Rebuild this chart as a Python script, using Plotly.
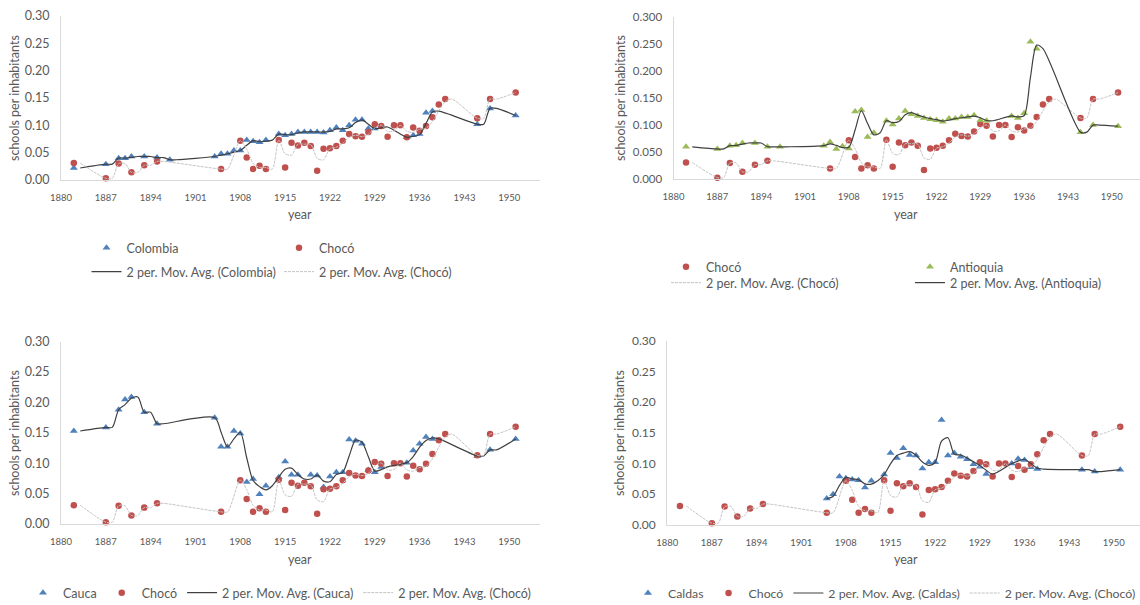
import pandas as pd
import plotly.graph_objects as go

# ---------------- data: schools per inhabitants ----------------
choco_years = [1882, 1887, 1889, 1891, 1893, 1895, 1905, 1908, 1909, 1910, 1911, 1912,
               1914, 1915, 1916, 1917, 1918, 1919, 1920, 1921, 1922, 1923, 1924, 1925,
               1926, 1927, 1928, 1929, 1930, 1931, 1932, 1933, 1934, 1935, 1936, 1937,
               1938, 1939, 1940, 1945, 1947, 1951]
choco_vals = [0.031, 0.003, 0.030, 0.014, 0.027, 0.034, 0.020, 0.072, 0.041, 0.020, 0.026, 0.020,
              0.073, 0.023, 0.068, 0.063, 0.068, 0.062, 0.017, 0.057, 0.058, 0.062, 0.072, 0.084,
              0.080, 0.079, 0.088, 0.102, 0.099, 0.079, 0.100, 0.100, 0.078, 0.096, 0.090, 0.099,
              0.115, 0.138, 0.148, 0.113, 0.148, 0.160]

colombia_years = [1882, 1887, 1889, 1890, 1891, 1893, 1895, 1897, 1904, 1905, 1906, 1907,
                  1908, 1909, 1910, 1911, 1912, 1914, 1915, 1916, 1917, 1918, 1919, 1920,
                  1921, 1922, 1923, 1924, 1925, 1926, 1927, 1928, 1929, 1930, 1934, 1935,
                  1936, 1937, 1938, 1945, 1947, 1951]
colombia_vals = [0.022, 0.029, 0.040, 0.040, 0.043, 0.043, 0.041, 0.037, 0.043, 0.048, 0.048, 0.054,
                 0.054, 0.073, 0.071, 0.069, 0.073, 0.084, 0.082, 0.084, 0.088, 0.088, 0.088, 0.088,
                 0.087, 0.091, 0.096, 0.091, 0.100, 0.110, 0.110, 0.094, 0.094, 0.097, 0.078, 0.082,
                 0.084, 0.123, 0.126, 0.102, 0.131, 0.118]

antioquia_years = colombia_years
antioquia_vals = [0.060, 0.056, 0.062, 0.063, 0.067, 0.067, 0.060, 0.060, 0.062, 0.069, 0.056, 0.061,
                  0.057, 0.125, 0.128, 0.078, 0.086, 0.108, 0.101, 0.112, 0.126, 0.120, 0.117, 0.113,
                  0.111, 0.109, 0.106, 0.112, 0.112, 0.115, 0.115, 0.118, 0.109, 0.108, 0.117, 0.113,
                  0.122, 0.254, 0.241, 0.087, 0.100, 0.098]

cauca_years = [1882, 1887, 1889, 1890, 1891, 1893, 1895, 1904, 1905, 1906, 1907, 1908,
               1909, 1910, 1911, 1912, 1914, 1915, 1916, 1917, 1918, 1919, 1920, 1921,
               1922, 1923, 1924, 1925, 1926, 1927, 1928, 1929, 1930, 1934, 1935, 1936,
               1937, 1938, 1945, 1947, 1951]
cauca_vals = [0.153, 0.159, 0.188, 0.205, 0.209, 0.184, 0.165, 0.175, 0.127, 0.127, 0.153, 0.149,
              0.069, 0.074, 0.049, 0.063, 0.077, 0.103, 0.081, 0.081, 0.067, 0.081, 0.080, 0.061,
              0.078, 0.085, 0.085, 0.139, 0.137, 0.132, 0.089, 0.085, 0.094, 0.101, 0.121, 0.132,
              0.143, 0.140, 0.112, 0.122, 0.140]

caldas_years = [1905, 1906, 1907, 1908, 1909, 1910, 1911, 1912, 1914, 1915, 1916, 1917,
                1918, 1919, 1920, 1921, 1922, 1923, 1924, 1925, 1926, 1927, 1928, 1929,
                1930, 1934, 1935, 1936, 1937, 1938, 1945, 1947, 1951]
caldas_vals = [0.043, 0.050, 0.079, 0.076, 0.074, 0.073, 0.061, 0.072, 0.082, 0.117, 0.109, 0.125,
               0.114, 0.113, 0.092, 0.102, 0.102, 0.171, 0.113, 0.117, 0.111, 0.107, 0.099, 0.095,
               0.083, 0.100, 0.108, 0.106, 0.094, 0.091, 0.090, 0.087, 0.090]

year_ticks = list(range(1880, 1951, 7))
FIRST_ROW, LAST_ROW = 1882, 1951

# ---------------- styling ----------------
FONT = "Lato"
TXT = "#595959"
AXIS = "#D9D9D9"
BLUE, RED, GREEN = "#4F81BD", "#C0504D", "#9BBB59"
DARK, LIGHT = "#404040", "#C4C4C4"
W, H = 1140, 605


def two_period_ma(years, vals):
    """2-period moving average over the yearly table; blank years are skipped."""
    s = pd.Series(vals, index=years, dtype=float).reindex(range(FIRST_ROW, LAST_ROW + 1))
    ma = s.rolling(2, min_periods=1).mean().iloc[1:].dropna()
    return list(ma.index), list(ma.values)


def px_x(p):
    return p / W


def px_y(p):
    return 1 - p / H


fig = go.Figure()

# panel geometry in pixels
panels = [
    dict(l=61, r=540, t=16, b=180, xend=1954.8, fmt=".2f", ytf=12.5),
    dict(l=673.5, r=1140, t=16.7, b=179.3, xend=1954.5, fmt=".3f", ytf=11.5),
    dict(l=61, r=540, t=341.7, b=524, xend=1954.8, fmt=".2f", ytf=12.5),
    dict(l=667.2, r=1140, t=340.7, b=525, xend=1954.1, fmt=".2f", ytf=12),
]

for i, p in enumerate(panels, start=1):
    sfx = "" if i == 1 else str(i)
    fig.layout["xaxis" + sfx] = dict(
        domain=[px_x(p["l"]), px_x(p["r"])], range=[1880, p["xend"]],
        anchor="y" + sfx, tickvals=year_ticks, showgrid=False, zeroline=False,
        showline=True, linecolor=AXIS, linewidth=1.3,
        ticks="outside", ticklen=8, tickcolor="rgba(0,0,0,0)",
        tickfont=dict(family=FONT, size=9.5, color=TXT),
    )
    fig.layout["yaxis" + sfx] = dict(
        domain=[px_y(p["b"]), px_y(p["t"])], range=[0, 0.30], dtick=0.05,
        tickformat=p["fmt"], anchor="x" + sfx, showgrid=False, zeroline=False,
        showline=True, linecolor=AXIS, linewidth=1,
        ticks="outside", ticklen=8, tickcolor="rgba(0,0,0,0)",
        tickfont=dict(family=FONT, size=p["ytf"], color=TXT),
    )


def add_points(name, years, vals, color, symbol, axis, legend, size):
    fig.add_trace(go.Scatter(
        x=years, y=vals, mode="markers", name=name,
        marker=dict(color=color, symbol=symbol, size=size, line=dict(width=0)),
        xaxis="x" + axis, yaxis="y" + axis, legend=legend, cliponaxis=False,
        hoverinfo="x+y",
    ))


def add_ma(name, years, vals, color, dash, width, axis, legend):
    mx, my = two_period_ma(years, vals)
    fig.add_trace(go.Scatter(
        x=mx, y=my, mode="lines", name="2 per. Mov. Avg. (%s)" % name,
        line=dict(color=color, dash=dash, width=width, shape="spline", smoothing=0.8),
        xaxis="x" + axis, yaxis="y" + axis, legend=legend, hoverinfo="skip",
    ))


TRI, DOT = "triangle-up", "circle"
CH = "Chocó"
CH_DASH = "3px,1px"

# panel 1: Colombia vs Chocó
add_points("Colombia", colombia_years, colombia_vals, BLUE, TRI, "", "legend", 7)
add_points(CH, choco_years, choco_vals, RED, DOT, "", "legend2", 6.5)
add_ma("Colombia", colombia_years, colombia_vals, DARK, "solid", 1.2, "", "legend3")
add_ma(CH, choco_years, choco_vals, LIGHT, CH_DASH, 1, "", "legend4")

# panel 2: Chocó vs Antioquia
add_points(CH, choco_years, choco_vals, RED, DOT, "2", "legend5", 6.5)
add_points("Antioquia", antioquia_years, antioquia_vals, GREEN, TRI, "2", "legend6", 7)
add_ma(CH, choco_years, choco_vals, LIGHT, CH_DASH, 1, "2", "legend7")
add_ma("Antioquia", antioquia_years, antioquia_vals, DARK, "solid", 1.2, "2", "legend8")

# panel 3: Cauca vs Chocó
add_points("Cauca", cauca_years, cauca_vals, BLUE, TRI, "3", "legend9", 7)
add_points(CH, choco_years, choco_vals, RED, DOT, "3", "legend9", 6.5)
add_ma("Cauca", cauca_years, cauca_vals, DARK, "solid", 1.2, "3", "legend9")
add_ma(CH, choco_years, choco_vals, LIGHT, CH_DASH, 1, "3", "legend9")

# panel 4: Caldas vs Chocó
add_points("Caldas", caldas_years, caldas_vals, BLUE, TRI, "4", "legend10", 7)
add_points(CH, choco_years, choco_vals, RED, DOT, "4", "legend10", 6.5)
add_ma("Caldas", caldas_years, caldas_vals, DARK, "solid", 1.2, "4", "legend10")
add_ma(CH, choco_years, choco_vals, LIGHT, CH_DASH, 1, "4", "legend10")


def legend_box(text_x, y, size=12.5):
    # legend entry text starts 40 px right of the box edge
    return dict(x=px_x(text_x - 40), y=px_y(y), xanchor="left", yanchor="middle",
                orientation="h", bgcolor="rgba(0,0,0,0)", borderwidth=0,
                font=dict(family=FONT, size=size, color=TXT), traceorder="normal",
                itemclick=False, itemdoubleclick=False)


fig.update_layout(
    width=W, height=H, margin=dict(l=0, r=0, t=0, b=0, autoexpand=False),
    paper_bgcolor="white", plot_bgcolor="white", showlegend=True,
    font=dict(family=FONT, color=TXT),
    legend=legend_box(126.5, 248),
    legend2=legend_box(319, 248),
    legend3=legend_box(126.5, 272),
    legend4=legend_box(319, 272),
    legend5=legend_box(706, 267),
    legend6=legend_box(950, 267),
    legend7=legend_box(706, 283),
    legend8=legend_box(950, 283),
    legend9=legend_box(63, 593),
    legend10=legend_box(668, 593, 12.3),
)

# axis titles
titles = [
    (14, 98, "schools per inhabitants", -90), (300, 214, "year", 0),
    (620, 98, "schools per inhabitants", -90), (906, 214, "year", 0),
    (14, 433, "schools per inhabitants", -90), (300, 559, "year", 0),
    (619, 433, "schools per inhabitants", -90), (906, 559, "year", 0),
]
for x, y, text, ang in titles:
    fig.add_annotation(x=px_x(x), y=px_y(y), xref="paper", yref="paper", text=text,
                       textangle=ang, showarrow=False, xanchor="center", yanchor="middle",
                       font=dict(family=FONT, size=12.5, color=TXT))

fig.write_html("out.html")
